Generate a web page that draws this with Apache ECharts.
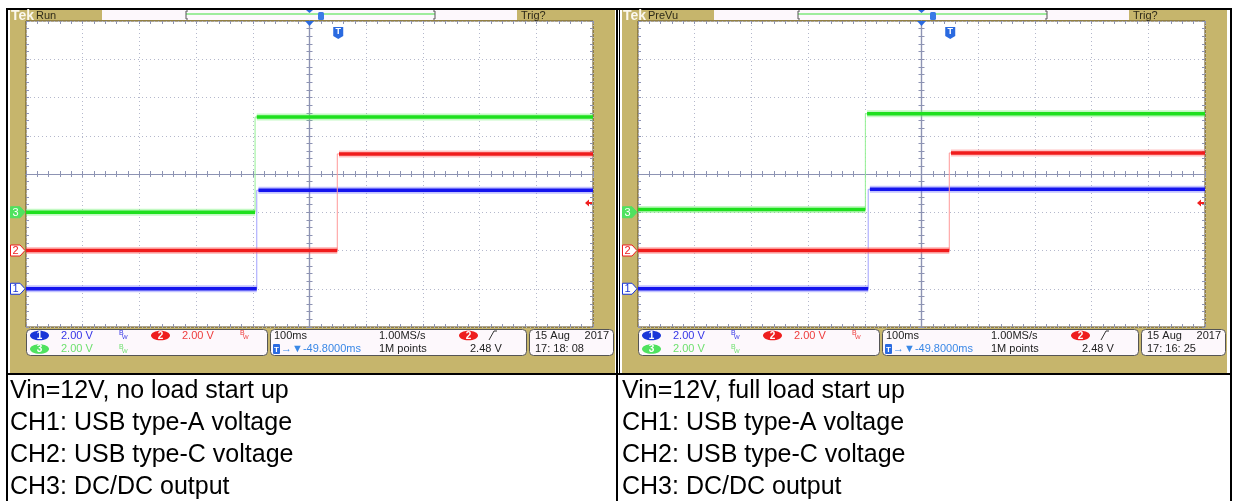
<!DOCTYPE html>
<html>
<head>
<meta charset="utf-8">
<script src="https://cdn.jsdelivr.net/npm/echarts@6/dist/echarts.min.js"></script>
<style>
html, body { margin: 0; padding: 0; background: #fff; }
#main { width: 1233px; height: 501px; }
</style>
</head>
<body>
<div id="main"></div>
<script>
// scope settings
var chLabels = ['1', '2', '3'];
var chGroundDiv = [-3, -2, -1];     // ground marker position, divisions from centre
var voltsPerDiv = [2, 2, 2];
var timeMin = -500, timeMax = 500;   // ms, 100 ms/div, 10 div
var triggerMs = 49.8;
var triggerLevelV = 2.48;           // on CH2

// left shot: no load
var noLoadStepMs = [-93, 49, -96];
var noLoadLowV = [0, 0, 0];
var noLoadHighV = [5.15, 5.05, 4.98];
// right shot: full load
var fullLoadStepMs = [-94, 49, -99];
var fullLoadLowV = [0, 0, 0.15];
var fullLoadHighV = [5.2, 5.1, 5.15];

var stamps = ['17: 18: 08', '17: 16: 25'];
var modes = ['Run', 'PreVu'];
var notes = [
  ['Vin=12V, no load start up', 'CH1: USB type-A voltage', 'CH2: USB type-C voltage', 'CH3: DC/DC output'],
  ['Vin=12V, full load start up', 'CH1: USB type-A voltage', 'CH2: USB type-C voltage', 'CH3: DC/DC output']
];

var coreCol = ['#1414ee', '#f01c1c', '#1ee01e'];
var fuzzCol = ['#6a6aff', '#ff6a6a', '#6af06a'];
var edgeCol = ['#a0a0ff', '#ff9898', '#94f094'];
var textCol = ['#3434e6', '#ee3c3c', '#6ee06e'];
var badgeCol = ['#1a36d8', '#ee1e1e', '#4fe25f'];

var tan = '#c6b56c';
var tickCol = '#8d93b3';
var panelX = [0, 612];

var grids = [], xAxes = [], yAxes = [], series = [];

function axis(gi, dim, pos, onZero, inside, split) {
  return {
    type: 'value', gridIndex: gi,
    min: dim === 'x' ? timeMin : -4,
    max: dim === 'x' ? timeMax : 4,
    interval: dim === 'x' ? 100 : 1,
    position: pos,
    axisLine: { show: onZero, onZero: onZero, lineStyle: { color: tickCol, width: 1.2 } },
    axisTick: { show: true, inside: inside, length: 3, lineStyle: { color: tickCol } },
    minorTick: { show: true, splitNumber: 5, length: 3, lineStyle: { color: tickCol } },
    axisLabel: { show: false },
    splitLine: { show: split, lineStyle: { color: '#b4b8cc', type: [1, 3] } }
  };
}

function traces(gi, stepMs, lowV, highV) {
  for (var c = 0; c < 3; c++) {
    var lo = chGroundDiv[c] + lowV[c] / voltsPerDiv[c];
    var hi = chGroundDiv[c] + highV[c] / voltsPerDiv[c];
    var s = stepMs[c];
    var base = { type: 'line', xAxisIndex: gi * 4, yAxisIndex: gi * 4, symbol: 'none', silent: true, animation: false };
    series.push(Object.assign({}, base, {
      data: [[timeMin, lo], [s, lo], [s, hi], [timeMax, hi]],
      lineStyle: { color: edgeCol[c], width: 1 }
    }));
    var seg = [[timeMin, lo], [s, lo], [s, '-'], [s + 3, hi], [timeMax, hi]];
    series.push(Object.assign({}, base, {
      data: seg, lineStyle: { color: fuzzCol[c], width: 7, opacity: 0.4 }
    }));
    series.push(Object.assign({}, base, {
      data: seg, lineStyle: { color: coreCol[c], width: 3.5 }
    }));
  }
}

for (var gi = 0; gi < 2; gi++) {
  grids.push({ left: 26 + panelX[gi], top: 21, width: 567, height: 306, show: true,
    backgroundColor: '#ffffff', borderColor: '#5c4a1c', borderWidth: 1 });
  xAxes.push(axis(gi, 'x', 'bottom', false, true, true));
  xAxes.push(axis(gi, 'x', 'top', false, true, false));
  xAxes.push(axis(gi, 'x', 'bottom', true, true, false));
  xAxes.push(axis(gi, 'x', 'bottom', true, false, false));
  yAxes.push(axis(gi, 'y', 'left', false, true, true));
  yAxes.push(axis(gi, 'y', 'right', false, true, false));
  yAxes.push(axis(gi, 'y', 'left', true, true, false));
  yAxes.push(axis(gi, 'y', 'left', true, false, false));
}
traces(0, noLoadStepMs, noLoadLowV, noLoadHighV);
traces(1, fullLoadStepMs, fullLoadLowV, fullLoadHighV);

var chart = echarts.init(document.getElementById('main'));
chart.setOption({
  backgroundColor: '#ffffff',
  animation: false,
  grid: grids, xAxis: xAxes, yAxis: yAxes, series: series
});

function txt(x, y, s, col, size, extra) {
  var st = { text: s, x: x, y: y, fill: col, fontSize: size, fontFamily: 'Liberation Sans', verticalAlign: 'middle' };
  if (extra) Object.assign(st, extra);
  return { type: 'text', z: 120, silent: true, style: st };
}
function rect(x, y, w, h, fill, stroke, r, z) {
  return { type: 'rect', z: z == null ? 100 : z, silent: true, shape: { x: x, y: y, width: w, height: h, r: r || 0 },
    style: { fill: fill, stroke: stroke || null, lineWidth: 1 } };
}
function badge(cx, cy, c) {
  return [
    { type: 'ellipse', z: 105, silent: true, shape: { cx: cx, cy: cy, rx: 9.5, ry: 4.8 }, style: { fill: badgeCol[c] } },
    txt(cx, cy + 0.5, chLabels[c], '#ffffff', 10, { align: 'center', fontWeight: 'bold' })
  ];
}
function bw(x, y, col) {
  return [txt(x, y - 2, 'B', col, 7), txt(x + 3, y + 2, 'W', col, 6)];
}

var els = [];
for (var p = 0; p < 2; p++) {
  var ox = panelX[p];
  var gx = p * 4;
  // frame
  els.push(rect(10 + ox, 10, 605, 363, tan, null, 0, -5));
  // header
  els.push(txt(11 + ox, 16.5, 'Tek', '#fbf8ee', 14, { fontWeight: 'bold' }));
  els.push(txt(36 + ox, 15.5, modes[p], '#2e2a18', 11));
  els.push(rect(102 + ox, 10, 415, 10, '#fdf8fc'));
  els.push({ type: 'line', z: 101, silent: true, shape: { x1: 186 + ox, y1: 14, x2: 435 + ox, y2: 14 }, style: { stroke: '#7ee87e', lineWidth: 1.5 } });
  els.push({ type: 'polyline', z: 101, silent: true, shape: { points: [[188 + ox, 11], [186 + ox, 11], [186 + ox, 19], [188 + ox, 19]] }, style: { stroke: '#555', lineWidth: 1, fill: null } });
  els.push({ type: 'polyline', z: 101, silent: true, shape: { points: [[433 + ox, 11], [435 + ox, 11], [435 + ox, 19], [433 + ox, 19]] }, style: { stroke: '#555', lineWidth: 1, fill: null } });
  els.push({ type: 'polygon', z: 102, silent: true, shape: { points: [[306 + ox, 10], [313 + ox, 10], [309.5 + ox, 13]] }, style: { fill: '#2a6ae0' } });
  els.push(rect(318 + ox, 12, 6, 8, '#3a7ae6', null, 1.5, 102));
  els.push(txt(521 + ox, 15.5, 'Trig?', '#2e2a18', 11));

  // expansion point and trigger position markers
  var cTop = chart.convertToPixel({ xAxisIndex: gx, yAxisIndex: gx }, [0, 4]);
  els.push({ type: 'polygon', z: 102, silent: true, shape: { points: [[cTop[0] - 4.5, cTop[1]], [cTop[0] + 4.5, cTop[1]], [cTop[0], cTop[1] + 5]] }, style: { fill: '#2a6ae0' } });
  var tp = chart.convertToPixel({ xAxisIndex: gx, yAxisIndex: gx }, [triggerMs, 4]);
  var tx = tp[0] + 0.5, ty = tp[1] + 6;
  els.push({ type: 'polygon', z: 102, silent: true, shape: { points: [[tx - 5, ty], [tx + 5, ty], [tx + 5, ty + 9], [tx, ty + 12], [tx - 5, ty + 9]] }, style: { fill: '#2a6ae0' } });
  els.push(txt(tx, ty + 5, 'T', '#ffffff', 9, { align: 'center', fontWeight: 'bold' }));

  // trigger level arrow on right edge
  var tl = chart.convertToPixel({ xAxisIndex: gx, yAxisIndex: gx }, [timeMax, chGroundDiv[1] + triggerLevelV / voltsPerDiv[1]]);
  els.push({ type: 'polygon', z: 102, silent: true, shape: { points: [[tl[0] - 8, tl[1]], [tl[0] - 4, tl[1] - 3.5], [tl[0] - 4, tl[1] - 1], [tl[0] - 1, tl[1] - 1], [tl[0] - 1, tl[1] + 1], [tl[0] - 4, tl[1] + 1], [tl[0] - 4, tl[1] + 3.5]] }, style: { fill: '#f02020' } });

  // channel ground markers
  for (var c = 0; c < 3; c++) {
    var g = chart.convertToPixel({ xAxisIndex: gx, yAxisIndex: gx }, [timeMin, chGroundDiv[c]]);
    var my = g[1];
    var filled = c === 2;
    els.push({ type: 'polygon', z: 102, silent: true,
      shape: { points: [[10.5 + ox, my - 5.5], [20 + ox, my - 5.5], [25 + ox, my], [20 + ox, my + 5.5], [10.5 + ox, my + 5.5]] },
      style: { fill: filled ? badgeCol[c] : '#ffffff', stroke: badgeCol[c], lineWidth: 1 } });
    els.push(txt(15.5 + ox, my + 0.5, chLabels[c], filled ? '#ffffff' : badgeCol[c], 11, { align: 'center' }));
  }

  // status boxes
  els.push(rect(26.5 + ox, 329.5, 241, 26, '#fdf8fc', '#555', 4));
  els.push(rect(270.5 + ox, 329.5, 256, 26, '#fdf8fc', '#555', 4));
  els.push(rect(529.5 + ox, 329.5, 84, 26, '#fdf8fc', '#555', 4));
  var r1 = 335.5, r2 = 349;
  els = els.concat(badge(39.5 + ox, r1, 0));
  els.push(txt(61 + ox, r1, '2.00 V', textCol[0], 11));
  els = els.concat(bw(119 + ox, r1, textCol[0]));
  els = els.concat(badge(160.5 + ox, r1, 1));
  els.push(txt(182 + ox, r1, '2.00 V', textCol[1], 11));
  els = els.concat(bw(240 + ox, r1, textCol[1]));
  els = els.concat(badge(39.5 + ox, r2, 2));
  els.push(txt(61 + ox, r2, '2.00 V', textCol[2], 11));
  els = els.concat(bw(119 + ox, r2, textCol[2]));

  els.push(txt(274 + ox, r1, '100ms', '#222', 11));
  els.push(rect(273 + ox, 344, 7, 10, '#2a6ae0', null, 1, 105));
  els.push(txt(276.5 + ox, r2 + 0.5, 'T', '#ffffff', 8, { align: 'center', fontWeight: 'bold' }));
  els.push(txt(281 + ox, r2, '\u2192\u25BC-49.8000ms', '#3a88e6', 11));
  els.push(txt(379 + ox, r1, '1.00MS/s', '#222', 11));
  els.push(txt(379 + ox, r2, '1M points', '#222', 11));
  els = els.concat(badge(468.5 + ox, r1, 1));
  els.push({ type: 'polyline', z: 101, silent: true, shape: { points: [[489 + ox, 340], [494 + ox, 331], [497 + ox, 331]] }, style: { stroke: '#333', lineWidth: 1, fill: null } });
  els.push(txt(470 + ox, r2, '2.48 V', '#222', 11));
  els.push(txt(535 + ox, r1, '15 Aug', '#222', 11));
  els.push(txt(609 + ox, r1, '2017', '#222', 11, { align: 'right' }));
  els.push(txt(535 + ox, r2, stamps[p], '#222', 11));

  // caption
  var rowsY = [391, 423, 455, 487];
  for (var k = 0; k < 4; k++) {
    els.push(txt(10 + ox, rowsY[k], notes[p][k], '#000000', 25));
  }
}

// table rules
els.push(rect(6, 8, 1226, 2, '#000', null, 0, 110));
els.push(rect(6, 8, 2, 493, '#000', null, 0, 110));
els.push(rect(1230, 8, 2, 493, '#000', null, 0, 110));
els.push(rect(616, 8, 2, 493, '#000', null, 0, 110));
els.push(rect(619, 8, 1, 365, '#000', null, 0, 110));
els.push(rect(6, 373, 1226, 2, '#000', null, 0, 110));

chart.setOption({ graphic: { elements: els } });
</script>
</body>
</html>
